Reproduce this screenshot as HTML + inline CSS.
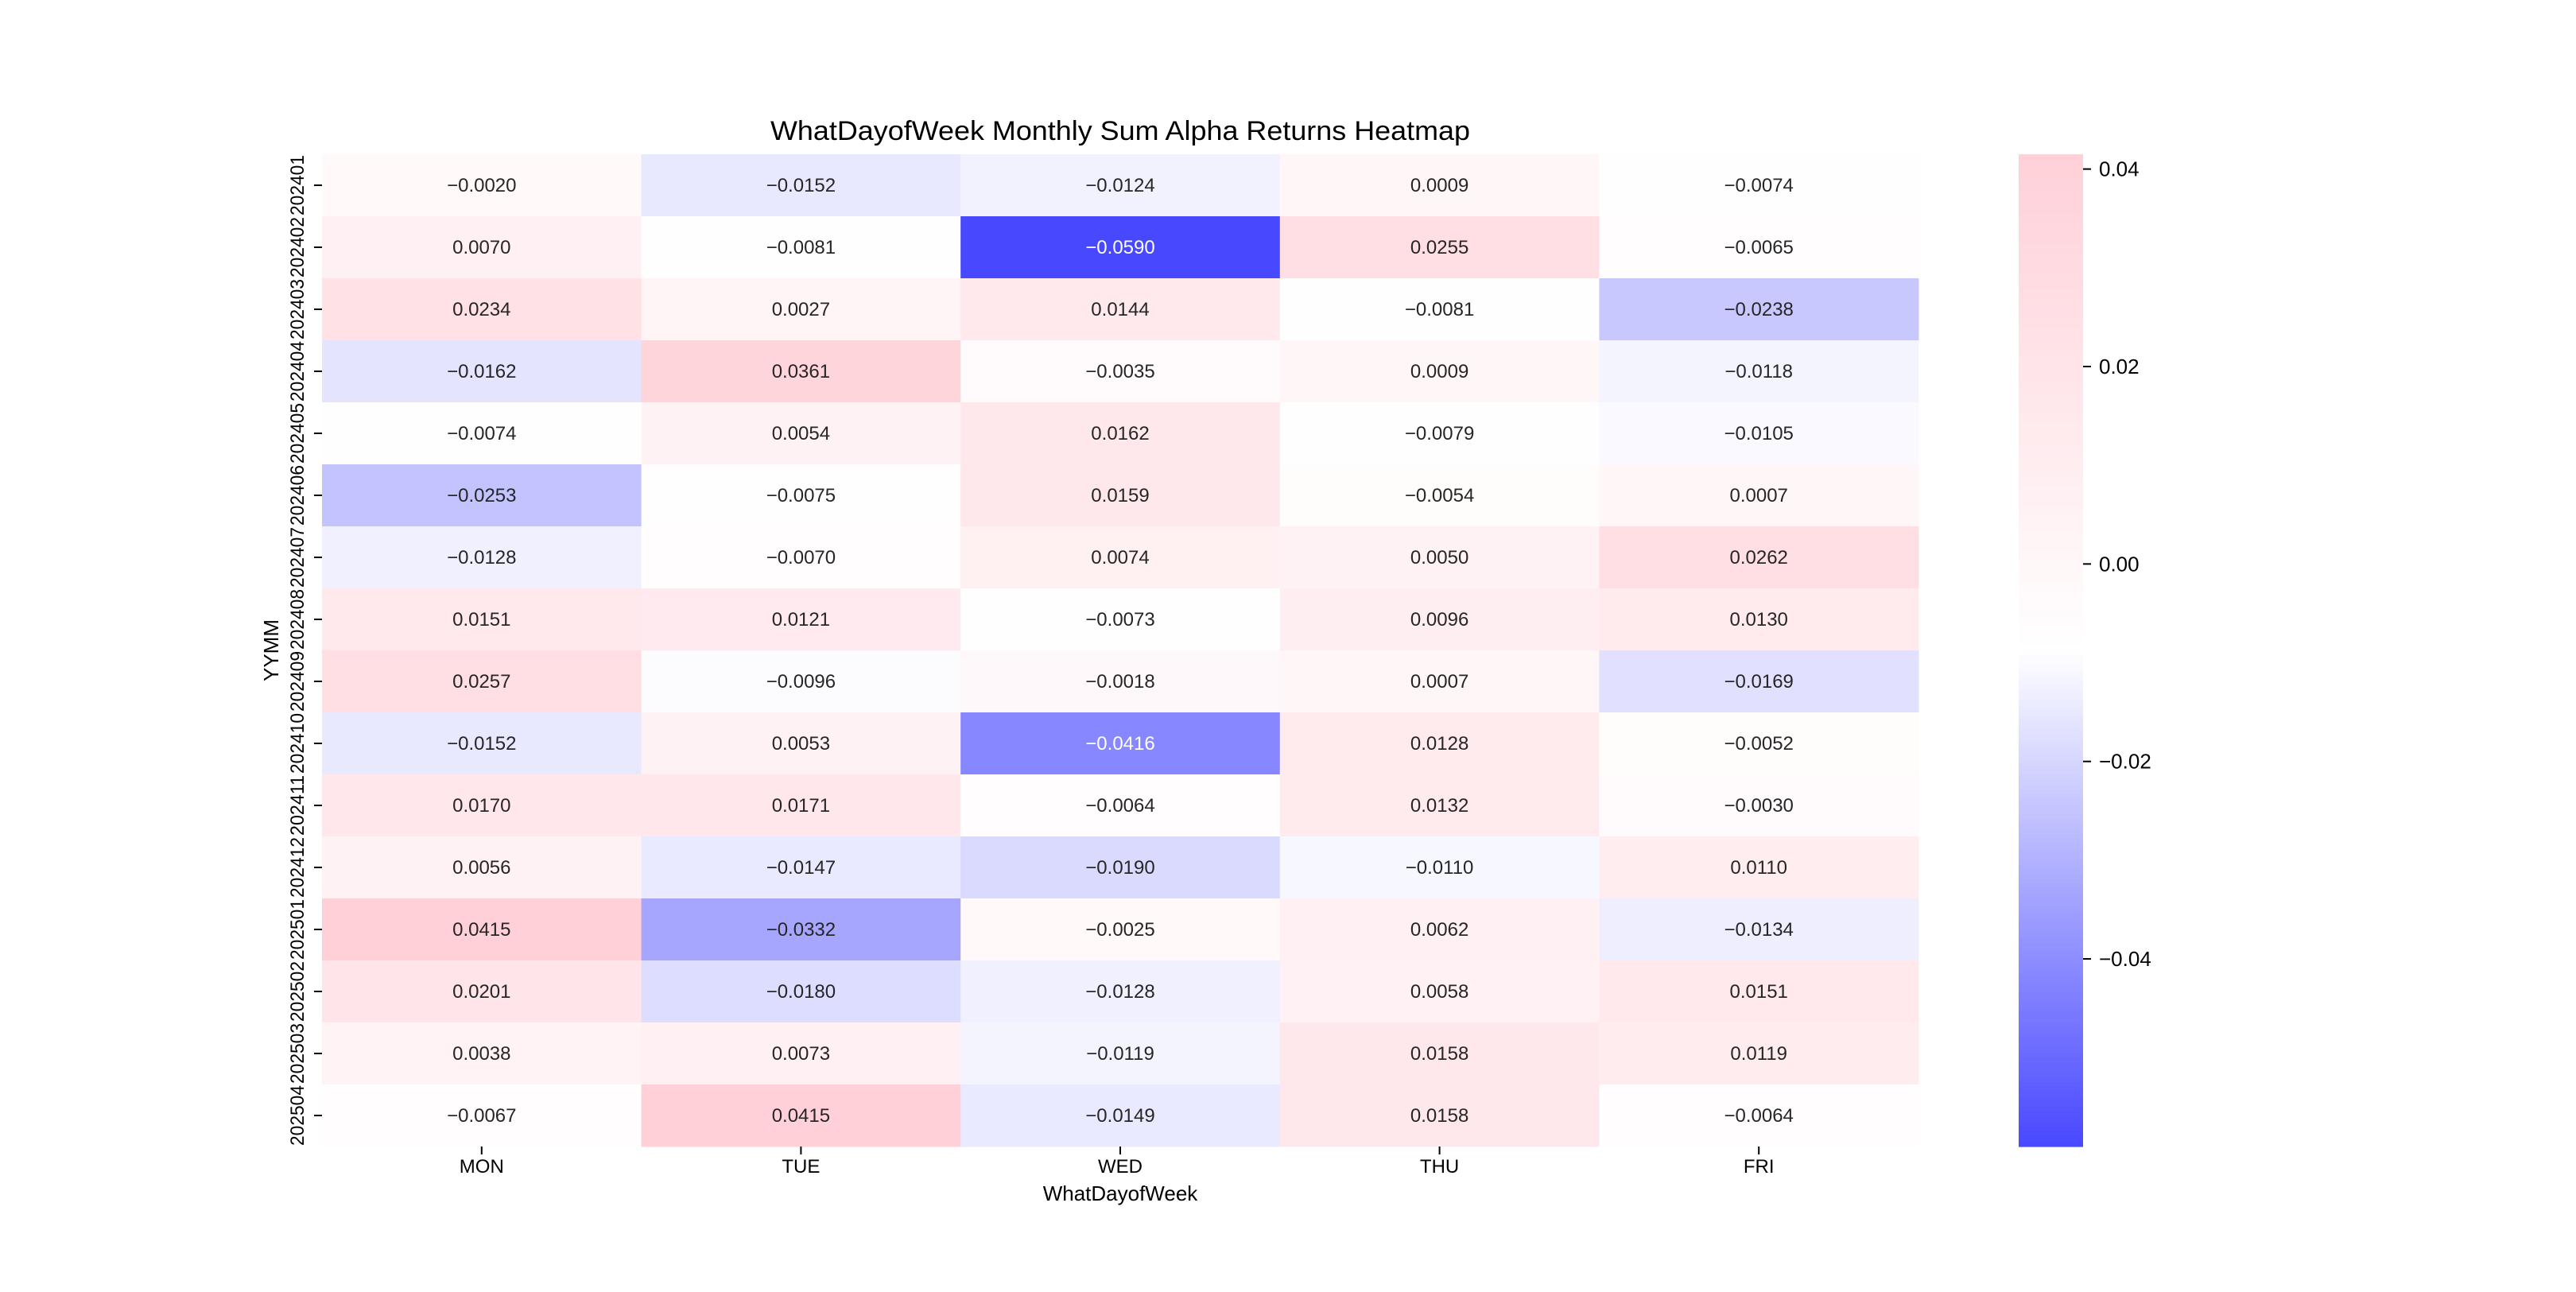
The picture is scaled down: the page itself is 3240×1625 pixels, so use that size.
<!DOCTYPE html>
<html><head><meta charset="utf-8"><style>
html,body{margin:0;padding:0;background:#fff}
svg text{font-family:"Liberation Sans","WenQuanYi Zen Hei",sans-serif}
</style></head><body>
<svg id="chart" width="3240" height="1620" viewBox="0 0 3240 1620" xmlns="http://www.w3.org/2000/svg">
<rect width="3240" height="1620" fill="#fff"/>
<text x="1409" y="176" font-size="34" text-anchor="middle" fill="#000" textLength="880" lengthAdjust="spacingAndGlyphs">WhatDayofWeek Monthly Sum Alpha Returns Heatmap</text>
<text x="1409" y="1510" font-size="26" text-anchor="middle" fill="#000">WhatDayofWeek</text>
<text x="0" y="0" font-size="26" text-anchor="middle" fill="#000" transform="translate(350,818) rotate(-90)">YYMM</text>
<g id="cells"></g>
<g id="axes"></g>
<g id="cbar"></g>
</svg>
<script>
const days = ["MON","TUE","WED","THU","FRI"];
const months = ["202401","202402","202403","202404","202405","202406","202407","202408","202409","202410","202411","202412","202501","202502","202503","202504"];
const mon = [-0.0020,0.0070,0.0234,-0.0162,-0.0074,-0.0253,-0.0128,0.0151,0.0257,-0.0152,0.0170,0.0056,0.0415,0.0201,0.0038,-0.0067];
const tue = [-0.0152,-0.0081,0.0027,0.0361,0.0054,-0.0075,-0.0070,0.0121,-0.0096,0.0053,0.0171,-0.0147,-0.0332,-0.0180,0.0073,0.0415];
const wed = [-0.0124,-0.0590,0.0144,-0.0035,0.0162,0.0159,0.0074,-0.0073,-0.0018,-0.0416,-0.0064,-0.0190,-0.0025,-0.0128,-0.0119,-0.0149];
const thu = [0.0009,0.0255,-0.0081,0.0009,-0.0079,-0.0054,0.0050,0.0096,0.0007,0.0128,0.0132,-0.0110,0.0062,0.0058,0.0158,0.0158];
const fri = [-0.0074,-0.0065,-0.0238,-0.0118,-0.0105,0.0007,0.0262,0.0130,-0.0169,-0.0052,-0.0030,0.0110,-0.0134,0.0151,0.0119,-0.0064];
const cbTicks = [0.04,0.02,0.00,-0.02,-0.04];
const cbTickLabels = ["0.04","0.02","0.00","\u22120.02","\u22120.04"];

const series = [mon,tue,wed,thu,fri];
const NS = "http://www.w3.org/2000/svg";
const L=405, R=2413, T=194, B=1442;
const all = series.flat();
const vmin = Math.min(...all), vmax = Math.max(...all);
const colW = (R-L)/days.length, rowH = (B-T)/months.length;
const xScale = i => L + i*colW;
const yScale = j => T + j*rowH;
const CB_L=2539, CB_R=2620;
const cbY = v => T + (vmax - v)/(vmax - vmin)*(B-T);
function color(v){
  const t=(v-vmin)/(vmax-vmin);
  let r,g,b;
  if(t<0.5){const s=t/0.5; r=72+183*s; g=72+183*s; b=255;}
  else {const s=(t-0.5)/0.5; r=255; g=255-47*s; b=255-39*s;}
  return `rgb(${Math.round(r)},${Math.round(g)},${Math.round(b)})`;
}
function mk(tag, attrs, parent){
  const e=document.createElementNS(NS,tag);
  for(const k in attrs) e.setAttribute(k,attrs[k]);
  parent.appendChild(e); return e;
}
const cells=document.getElementById('cells');
series.forEach((arr,i)=>{
  arr.forEach((v,j)=>{
    const r=mk('rect',{x:xScale(i),y:yScale(j),width:colW+0.5,height:rowH+0.5,fill:color(v)},cells);
    
    
    const t=(v-vmin)/(vmax-vmin);
    const tx=mk('text',{x:xScale(i)+colW/2,y:yScale(j)+rowH/2+8,'font-size':24,'text-anchor':'middle',fill:t<0.25?'#fff':'#262626'},cells);
    tx.textContent=(v<0?'\u2212':'')+Math.abs(v).toFixed(4);
    
    
  });
});
const axes=document.getElementById('axes');
days.forEach((d,i)=>{
  const cx=xScale(i)+colW/2;
  const tk=mk('line',{x1:cx,x2:cx,y1:B,y2:B+10,stroke:'#000','stroke-width':2},axes);
  
  
  const t=mk('text',{x:cx,y:B+33,'font-size':24,'text-anchor':'middle',fill:'#000'},axes);
  t.textContent=d;
  
  
});
months.forEach((m,j)=>{
  const cy=yScale(j)+rowH/2;
  const tk=mk('line',{x1:L-10,x2:L,y1:cy,y2:cy,stroke:'#000','stroke-width':2},axes);
  
  
  const t=mk('text',{x:0,y:0,'font-size':24,'text-anchor':'middle',fill:'#000',textLength:76,lengthAdjust:'spacingAndGlyphs',transform:`translate(382,${cy}) rotate(-90)`},axes);
  t.textContent=m;
  
  
});
const cbar=document.getElementById('cbar');
const N=200;
for(let k=0;k<N;k++){
  const v1=vmax-(vmax-vmin)*k/N, v2=vmax-(vmax-vmin)*(k+1)/N;
  const r=mk('rect',{x:CB_L,y:cbY(v1),width:CB_R-CB_L,height:cbY(v2)-cbY(v1)+0.6,fill:color((v1+v2)/2)},cbar);
  
  
}
cbTicks.forEach((v,k)=>{
  const y=cbY(v);
  const tk=mk('line',{x1:CB_R,x2:CB_R+10,y1:y,y2:y,stroke:'#000','stroke-width':2},cbar);
  
  
  const t=mk('text',{x:CB_R+20,y:y+9,'font-size':26,fill:'#000'},cbar);
  t.textContent=cbTickLabels[k];
  
  
});
</script>
</body></html>
